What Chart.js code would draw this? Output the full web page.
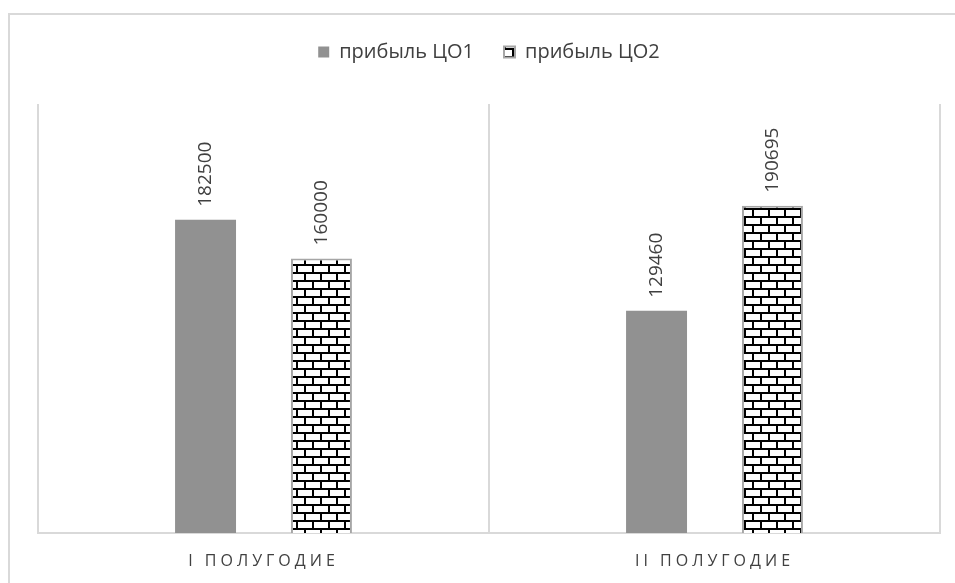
<!DOCTYPE html>
<html>
<head>
<meta charset="utf-8">
<script src="https://cdn.jsdelivr.net/npm/chart.js@4.4.1/dist/chart.umd.min.js"></script>
<style>
html, body { margin: 0; padding: 0; background: #fff; overflow: hidden; }
#frame { position: absolute; left: 8px; top: 13px; width: 1000px; height: 700px; border: 2px solid #d9d9d9; }
#wrap { position: absolute; left: 0; top: 0; width: 955px; height: 583px; }
</style>
</head>
<body>
<div id="frame"></div>
<div id="wrap"><canvas id="myChart"></canvas></div>
<script>
var categories = ['I ПОЛУГОДИЕ', 'II ПОЛУГОДИЕ'];
var seriesNames = ['прибыль ЦО1', 'прибыль ЦО2'];
var profit1 = [182500, 129460];
var profit2 = [160000, 190695];
var yMax = 250000;

// brick fill like the excel pattern
function brickPattern() {
    var c = document.createElement('canvas');
    c.width = 16;
    c.height = 16;
    var p = c.getContext('2d');
    p.fillStyle = '#ffffff';
    p.fillRect(0, 0, 16, 16);
    p.fillStyle = '#000000';
    p.fillRect(0, 0, 16, 2);
    p.fillRect(0, 8, 16, 2);
    p.fillRect(0, 0, 2, 8);
    p.fillRect(8, 8, 2, 8);
    return p.createPattern(c, 'repeat');
}

// values written above the bars, turned upright
var barLabels = {
    id: 'barLabels',
    afterDatasetsDraw: function (chart) {
        var ctx = chart.ctx;
        ctx.save();
        ctx.font = '19px "Open Sans"';
        ctx.fillStyle = '#404040';
        ctx.textAlign = 'left';
        ctx.textBaseline = 'middle';
        chart.data.datasets.forEach(function (ds, i) {
            chart.getDatasetMeta(i).data.forEach(function (bar, j) {
                ctx.save();
                ctx.translate(bar.x, bar.y - 13);
                ctx.rotate(-Math.PI / 2);
                ctx.fillText(String(ds.data[j]), 0, 0);
                ctx.restore();
            });
        });
        ctx.restore();
    }
};

// spread out the category letters
var spacedTicks = {
    id: 'spacedTicks',
    afterLayout: function (chart) {
        var s = chart.scales.x;
        if (s._spaced) return;
        var orig = s.drawLabels;
        s.drawLabels = function (area) {
            chart.ctx.save();
            chart.ctx.letterSpacing = '4px';
            orig.call(s, area);
            chart.ctx.restore();
        };
        s._spaced = true;
    }
};

var ctx = document.getElementById('myChart').getContext('2d');
var chart = new Chart(ctx, {
    type: 'bar',
    data: {
        labels: categories,
        datasets: [{
            label: seriesNames[0],
            data: profit1,
            backgroundColor: '#919191',
            borderWidth: 0
        }, {
            label: seriesNames[1],
            data: profit2,
            backgroundColor: brickPattern(),
            borderColor: '#a6a6a6',
            borderWidth: 2
        }]
    },
    options: {
        responsive: true,
        maintainAspectRatio: false,
        animation: false,
        categoryPercentage: 0.514,
        barPercentage: 0.526,
        layout: { padding: { top: 12, left: 38, right: 15, bottom: 0 } },
        plugins: {
            legend: {
                position: 'top',
                labels: {
                    boxWidth: 11,
                    boxHeight: 11,
                    padding: 30,
                    color: '#404040',
                    font: { family: 'Open Sans', size: 20 }
                }
            },
            tooltip: { enabled: false }
        },
        scales: {
            x: {
                grid: { color: '#d9d9d9', lineWidth: 2, drawTicks: false },
                border: { color: '#d9d9d9', width: 2 },
                ticks: {
                    color: '#404040',
                    font: { family: 'Open Sans', size: 16 },
                    padding: 19,
                    maxRotation: 0
                },
                afterFit: function (s) { s.height = 50; }
            },
            spacer: {
                type: 'linear',
                position: 'top',
                grid: { display: false },
                border: { display: false },
                ticks: { display: false },
                afterFit: function (s) { s.height = 32; }
            },
            y: {
                display: false,
                min: 0,
                max: yMax
            }
        }
    },
    plugins: [barLabels, spacedTicks]
});
</script>
</body>
</html>
